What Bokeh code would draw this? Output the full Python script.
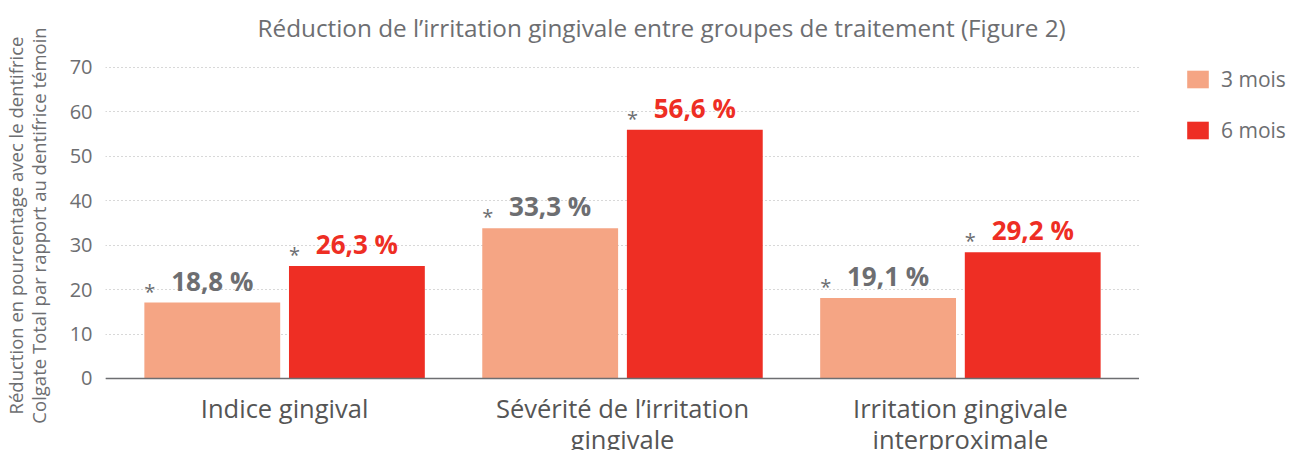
from bokeh.plotting import figure
from bokeh.layouts import row
from bokeh.models import (ColumnDataSource, FactorRange, Range1d, FixedTicker,
                          Legend, LegendItem, Span, Label)
from bokeh.transform import dodge
from bokeh.core.properties import value
from bokeh.embed import file_html
from bokeh.resources import INLINE

title_text = "Réduction de l’irritation gingivale entre groupes de traitement (Figure 2)"
y_label = ("Réduction en pourcentage avec le dentifrice\n"
           "Colgate Total par rapport au dentifrice témoin")
categories = ["Indice gingival",
              "Sévérité de l’irritation\ngingivale",
              "Irritation gingivale\ninterproximale"]
values_3 = [17.1, 33.8, 18.1]
values_6 = [25.3, 56.0, 28.4]
labels_3 = ["18,8 %", "33,3 %", "19,1 %"]
labels_6 = ["26,3 %", "56,6 %", "29,2 %"]
stars = ["*", "*", "*"]
series_names = ["3 mois", "6 mois"]
y_ticks = [0, 10, 20, 30, 40, 50, 60, 70]

C3 = "#f5a584"
C6 = "#ee2e24"
GREY = "#6d6e71"
FONT = "Open Sans"

src = ColumnDataSource(dict(cat=categories, v3=values_3, v6=values_6,
                            l3=labels_3, l6=labels_6, s=stars))

H = 450
# main chart: the frame covers the whole height so that the title and the
# two-line category labels can be drawn inside it
p = figure(x_range=FactorRange(*categories, range_padding=0.02),
           y_range=Range1d(-16.21, 85.08),
           width=1139, height=H,
           min_border_left=99, min_border_right=0,
           min_border_top=0, min_border_bottom=0,
           x_axis_location=None,
           output_backend="svg", toolbar_location=None)

off = 0.214
w = 0.402
r3 = p.vbar(x=dodge("cat", -off, range=p.x_range), top="v3", width=w,
            source=src, color=C3, line_color=None)
r6 = p.vbar(x=dodge("cat", off, range=p.x_range), top="v6", width=w,
            source=src, color=C6, line_color=None)

# value labels
p.text(x=dodge("cat", -off, range=p.x_range), y="v3", text="l3", source=src,
       text_font=value(FONT), text_font_size="26px", text_font_style="bold",
       text_color=GREY, text_align="center", text_baseline="bottom",
       y_offset=-4)
p.text(x=dodge("cat", off, range=p.x_range), y="v6", text="l6", source=src,
       text_font=value(FONT), text_font_size="26px", text_font_style="bold",
       text_color=C6, text_align="center", text_baseline="bottom",
       y_offset=-4)
# significance asterisks
p.text(x=dodge("cat", -off - w / 2, range=p.x_range), y="v3", text="s", source=src,
       text_font=value(FONT), text_font_size="20px", text_font_style="normal",
       text_color=GREY, text_align="left", text_baseline="bottom",
       y_offset=2)
p.text(x=dodge("cat", off - w / 2, range=p.x_range), y="v6", text="s", source=src,
       text_font=value(FONT), text_font_size="20px", text_font_style="normal",
       text_color=GREY, text_align="left", text_baseline="bottom",
       y_offset=2)

# category labels below the baseline
p.text(x="cat", y=0, text="cat", source=src,
       text_font=value(FONT), text_font_size="25.5px",
       text_color="#555555", text_align="center", text_baseline="top",
       text_line_height=0.9, y_offset=13)

# baseline (x axis line)
p.add_layout(Span(location=0, dimension="width", line_color=GREY, line_width=1.5))

# title
p.add_layout(Label(x=152, y=H - 27, x_units="screen", y_units="screen",
                   text=title_text, text_font=FONT, text_font_size="24.3px",
                   text_color=GREY, text_align="left", text_baseline="alphabetic"))

# y axis
p.yaxis.ticker = FixedTicker(ticks=y_ticks)
p.yaxis.bounds = (0, 70)
p.yaxis.axis_line_color = None
p.yaxis.major_tick_line_color = None
p.yaxis.major_tick_out = 0
p.yaxis.major_tick_in = 0
p.yaxis.minor_tick_line_color = None
p.yaxis.major_label_text_font = FONT
p.yaxis.major_label_text_font_size = "20px"
p.yaxis.major_label_text_color = GREY
p.yaxis.major_label_standoff = 13
p.yaxis.axis_label = y_label
p.yaxis.axis_label_text_font = FONT
p.yaxis.axis_label_text_font_size = "18.5px"
p.yaxis.axis_label_text_font_style = "normal"
p.yaxis.axis_label_text_color = GREY
p.yaxis.axis_label_text_line_height = 0.9
p.yaxis.axis_label_standoff = 16

p.xgrid.visible = False
p.ygrid.grid_line_color = "#b0b0b0"
p.ygrid.grid_line_dash = "1 3"
p.ygrid.grid_line_width = 1
p.outline_line_color = None

# legend panel (zero-width bars: only the legend entries are drawn)
p2 = figure(width=151, height=H, x_range=FactorRange(*categories),
            y_range=Range1d(-2, -1),
            x_axis_location=None, y_axis_location=None,
            min_border=0, output_backend="svg", toolbar_location=None)
p2.grid.visible = False
p2.outline_line_color = None
k3 = p2.vbar(x="cat", top="v3", width=0, source=src, color=C3, line_color=None)
k6 = p2.vbar(x="cat", top="v6", width=0, source=src, color=C6, line_color=None)
legend = Legend(items=[LegendItem(label=series_names[0], renderers=[k3]),
                       LegendItem(label=series_names[1], renderers=[k6])],
                location=(45, 306), orientation="vertical",
                glyph_width=27, glyph_height=22, label_height=22, spacing=23,
                label_text_font=FONT, label_text_font_size="21px",
                label_text_color=GREY, label_standoff=10,
                padding=0, margin=0, border_line_color=None,
                background_fill_alpha=0)
p2.add_layout(legend)

layout = row(p, p2)
open("out.html", "w").write(file_html(layout, INLINE))
